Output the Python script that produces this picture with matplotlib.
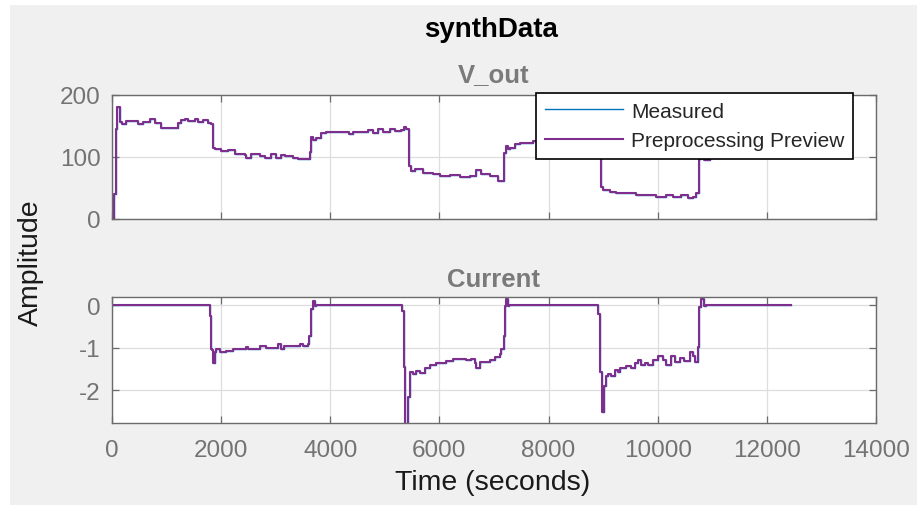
import matplotlib
matplotlib.use("Agg")
import matplotlib.pyplot as plt
from matplotlib.patches import Rectangle

plt.rcParams['font.family'] = ['Liberation Sans', 'DejaVu Sans']
plt.rcParams['axes.unicode_minus'] = False

# ---- data -------------------------------------------------------------
# V_out channel: (time in seconds, amplitude)
vout_t = [0, 31, 68, 92, 140, 150, 190, 263, 416, 477, 568, 690, 782, 904,
          1088, 1210, 1271, 1332, 1393, 1515, 1576, 1667, 1759, 1808, 1851,
          1880, 2004, 2126, 2248, 2431, 2462, 2553, 2706, 2797, 2920, 3011,
          3103, 3164, 3316, 3408, 3591, 3622, 3653, 3683, 3744, 3836, 3927,
          4324, 4347, 4415, 4598, 4690, 4782, 4873, 4965, 5087, 5179, 5301,
          5343, 5380, 5441, 5471, 5545, 5698, 5881, 6003, 6186, 6370, 6553,
          6676, 6767, 6920, 7072, 7134, 7176, 7212, 7255, 7286, 7378, 7469,
          7652, 7713, 7900, 8100, 8300, 8500, 8700, 8900, 8935, 8966, 8996,
          9118, 9240, 9423, 9607, 9790, 9973, 10156, 10278, 10431, 10552,
          10644, 10705, 10754, 10796, 10857, 10950, 11102, 11300, 11600,
          11900, 12200, 12434]
vout_v = [0, 40, 145, 181, 177, 156, 153, 158, 158, 153, 156, 161, 155, 146,
          146, 155, 159, 161, 158, 161, 156, 160, 155, 153, 115,
          113, 109, 112, 105, 104, 99, 105, 101, 99, 105, 99,
          104, 101, 99, 97, 96, 108, 133, 128, 131, 139, 140,
          140, 137, 140, 140, 144, 139, 145, 140, 145, 142, 144,
          148, 145, 86, 78, 80, 75, 73, 69, 71, 67, 69,
          79, 72, 69, 62, 62, 107, 118, 113, 115, 121, 122,
          122, 126, 127, 130, 128, 131, 129, 132, 130, 51, 46,
          44, 42, 42, 39, 38, 36, 39, 35, 39, 34,
          36, 42, 97, 99, 95, 101, 100, 108, 110,
          109, 110, 110]

# Current channel: (time in seconds, amplitude)
cur_t = [0, 1759, 1790, 1808, 1840, 1851, 1880, 1890, 1900, 1973, 2095, 2217,
         2461, 2490, 2706, 2830, 3042, 3100, 3160, 3378, 3440, 3500, 3591,
         3610, 3640, 3683, 3713, 3744, 5301, 5320, 5343, 5362, 5404, 5423,
         5453, 5514, 5575, 5640, 5727, 5820, 5942, 6125, 6247, 6370, 6492,
         6570, 6645, 6676, 6737, 6859, 6920, 7012, 7103, 7134, 7176, 7195,
         7225, 7256, 7280, 8892, 8910, 8935, 8966, 8977, 9008, 9015, 9045,
         9088, 9150, 9222, 9265, 9301, 9423, 9515, 9576, 9637, 9698, 9760,
         9820, 9911, 10003, 10095, 10156, 10247, 10309, 10400, 10490, 10583,
         10645, 10675, 10710, 10735, 10754, 10785, 10810, 10840, 10880,
         12434]
cur_v = [0, 0, -0.25, -1.03, -1.05, -1.35, -1.35, -1.1, -1.03, -1.09, -1.07,
         -1.03, -0.99, -1.03, -0.97, -1.01, -0.92, -1.03, -0.97, -0.97, -0.92,
         -0.97, -0.92, -0.72, -0.09, 0.1, -0.02, 0, 0, -0.13, -1.46, -2.95,
         -2.95, -2.16, -1.58, -1.62, -1.54, -1.6, -1.49, -1.41, -1.37, -1.31,
         -1.26, -1.26, -1.28, -1.26, -1.37, -1.47, -1.33, -1.33, -1.28, -1.22,
         -1.14, -1.03, -0.72, -0.02, 0.15, -0.02, 0, 0, -0.21, -1.58, -1.58,
         -2.52, -2.52, -1.9, -1.67, -1.63, -1.67, -1.52, -1.58, -1.48, -1.44,
         -1.48, -1.37, -1.29, -1.41, -1.37, -1.41, -1.29, -1.2, -1.3, -1.41,
         -1.2, -1.33, -1.25, -1.31, -1.1, -1.2, -1.33, -1.33, -0.99, -0.04,
         0.15, 0.15, -0.03, 0, 0]

x_ticks = [0, 2000, 4000, 6000, 8000, 10000, 12000, 14000]
vout_ticks = [0, 100, 200]
cur_ticks = [-2, -1, 0]

# ---- styling ------------------------------------------------------------
W, H = 917, 506
BLUE = '#0072BD'
PURPLE = '#7E2F8E'
SPINE = '#6b6b6b'
TICKTXT = '#737373'
GRID = '#dedede'

fig = plt.figure(figsize=(W / 100, H / 100), dpi=100, facecolor='white')
fig.patches.append(Rectangle((10 / W, 0), 1 - 10 / W, 1 - 6 / H,
                             transform=fig.transFigure, facecolor='#f0f0f0',
                             edgecolor='none', zorder=-10))


def px_axes(left, top, right, bottom):
    return fig.add_axes([left / W, 1 - bottom / H, (right - left) / W,
                         (bottom - top) / H])


ax1 = px_axes(112, 96, 876, 220)
ax2 = px_axes(112, 297.7, 876, 424.3)

for ax in (ax1, ax2):
    ax.set_facecolor('white')
    ax.set_xlim(0, 14000)
    ax.set_xticks(x_ticks)
    ax.grid(True, color=GRID, linewidth=0.9)
    ax.set_axisbelow(True)
    for s in ax.spines.values():
        s.set_color(SPINE)
        s.set_linewidth(1.0)
    ax.tick_params(direction='in', length=5, width=0.9, color=SPINE,
                   top=True, right=True, labelsize=17.5, labelcolor=TICKTXT)
    ax.tick_params(axis='y', pad=8)
    ax.tick_params(axis='x', pad=11)

ax1.plot(vout_t, vout_v, color=BLUE, linewidth=1.0, drawstyle='steps-post',
         label='Measured')
ax1.plot(vout_t, vout_v, color=PURPLE, linewidth=1.5, drawstyle='steps-post',
         label='Preprocessing Preview')
ax1.set_ylim(0, 200)
ax1.set_yticks(vout_ticks)
ax1.tick_params(axis='x', labelbottom=False)

ax2.plot(cur_t, cur_v, color=BLUE, linewidth=1.0, drawstyle='steps-post')
ax2.plot(cur_t, cur_v, color=PURPLE, linewidth=1.5, drawstyle='steps-post')
ax2.set_ylim(-2.78, 0.2)
ax2.set_yticks(cur_ticks)

leg = ax1.legend(loc='upper right', bbox_to_anchor=(0.97, 1.016),
                 borderaxespad=0, fontsize=15, handlelength=3.75,
                 handletextpad=0.37, borderpad=0.42, labelspacing=0.5,
                 fancybox=False, framealpha=1.0, edgecolor='black')
leg.get_frame().set_linewidth(1.2)
for txt in leg.get_texts():
    txt.set_color('#262626')

# subplot titles
ax1.text(0.5, 1 + (96 - 81.7) / 124, 'V_out', transform=ax1.transAxes,
         ha='center', va='baseline', fontsize=18.5, fontweight='bold',
         color='#7a7a7a')
ax2.text(0.5, 1 + (297.7 - 286.7) / 126.6, 'Current', transform=ax2.transAxes,
         ha='center', va='baseline', fontsize=18.5, fontweight='bold',
         color='#7a7a7a')

# figure title and shared labels
fig.text(491 / W, 1 - 36.7 / H, 'synthData', ha='center', va='baseline',
         fontsize=20, fontweight='bold', color='black')
fig.text(493 / W, 1 - 490 / H, 'Time (seconds)', ha='center', va='baseline',
         fontsize=20.5, color='#1a1a1a')
fig.text(31 / W, 1 - 263 / H, 'Amplitude', ha='center', va='center',
         rotation=90, fontsize=20.5, color='#1a1a1a')

fig.savefig('out.png', dpi=100, facecolor=fig.get_facecolor())
